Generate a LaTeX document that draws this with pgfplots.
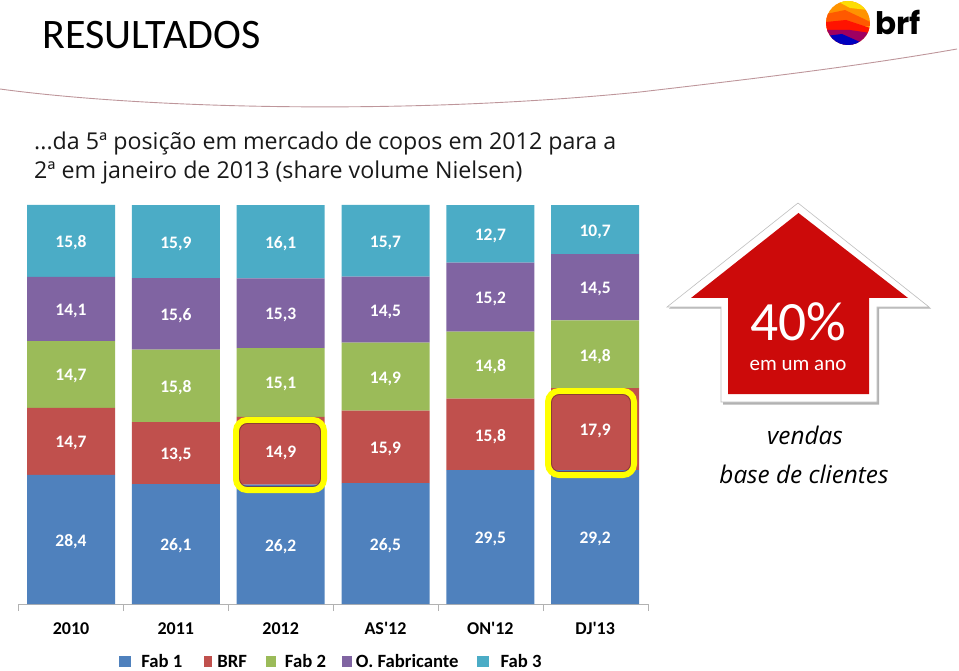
\documentclass[border=0pt]{standalone}
\usepackage{pgfplots}
\pgfplotsset{compat=1.18}
\usepackage{pgfplotstable}
\usepackage{fontspec}
\setmainfont{Carlito}[Ligatures=TeXOff]
\newfontfamily\bodyfont{Open Sans}
\newfontfamily\logofont{Poppins}
\definecolor{cA}{HTML}{4F81BD}
\definecolor{cB}{HTML}{C0504D}
\definecolor{cC}{HTML}{9BBB59}
\definecolor{cD}{HTML}{8064A2}
\definecolor{cE}{HTML}{4BACC6}
\definecolor{arrowred}{HTML}{CC0A0A}
\definecolor{hl}{HTML}{FFFF00}
\pgfplotstableread{
x fabA brf fabB ofab fabC total
0 28.4 14.7 14.7 14.1 15.8 87.7
1 26.1 13.5 15.8 15.6 15.9 86.9
2 26.2 14.9 15.1 15.3 16.1 87.6
3 26.5 15.9 14.9 14.5 15.7 87.5
4 29.5 15.8 14.8 15.2 12.7 88.0
5 29.2 17.9 14.8 14.5 10.7 87.1
}\shares
\pgfplotsset{
  ser/.style={fill=#1, draw=none, bar width=88pt},
  lab/.style={point meta=\thisrow{#1}},
  swatch/.style={legend image code/.code={\fill[##1] (0pt,-5.5pt) rectangle (#1pt,5.5pt);}},
}
\newcommand{\lgd}[3]{\hspace*{#1pt}\raisebox{0pt}[12pt][2pt]{#2}\hspace*{#3pt}\mbox{}}
\begin{document}
\begin{tikzpicture}[x=1pt,y=-1pt]
\path[use as bounding box] (0,0) rectangle (959,671);
% swoosh
\draw[color={rgb,255:red,190;green,150;blue,155},line width=0.9pt] (0,89) .. controls (140,108) and (400,116) .. (640,92) .. controls (760,78) and (860,66) .. (957,49);
% title & text
\node[anchor=base west,font=\fontsize{42}{42}\selectfont,inner sep=0] at (42,49) {RESULTADOS};
\node[anchor=base west,font=\bodyfont\fontsize{23.2}{23.2}\selectfont,inner sep=0,text=black!90] at (34,150) {...da 5ª posição em mercado de copos em 2012 para a};
\node[anchor=base west,font=\bodyfont\fontsize{23.2}{23.2}\selectfont,inner sep=0,text=black!90] at (34,179) {2ª em janeiro de 2013 (share volume Nielsen)};
% logo
\begin{scope}
\clip (848,23) circle (22);
\fill[orange!85!yellow] (826,1) rectangle (870,45);
\fill[yellow!80!orange] (835,0) -- (865,0) -- (868,10) -- (850,8) -- cycle;
\fill[orange!70!red] (826,14) -- (845,10) -- (862,18) -- (870,22) -- (870,26) -- (826,26) -- cycle;
\fill[red!85!orange] (826,22) -- (846,20) -- (870,28) -- (870,34) -- (826,32) -- cycle;
\fill[violet!75!red] (826,30) -- (850,30) -- (870,33) -- (862,46) -- (826,46) -- cycle;
\fill[blue!75!black] (826,36) -- (842,34) -- (860,42) -- (852,46) -- (826,46) -- cycle;
\end{scope}
\node[anchor=base west,font=\logofont\bfseries\fontsize{31}{31}\selectfont,inner sep=0] at (875,35) {brf};
% axis
\begin{axis}[
  at={(18.6pt,-604pt)}, anchor=south west,
  scale only axis, width=629pt, height=399pt,
  xmin=-0.5, xmax=5.5, ymin=0, ymax=100,
  ybar stacked,
  axis y line=none,
  axis x line*=bottom,
  axis line style={draw=black!30,-},
  xtick={0,...,5},
  xticklabels={2010,2011,2012,AS'12,ON'12,DJ'13},
  major tick length=0pt,
  minor xtick={-0.5,0.5,...,5.5},
  minor tick length=7pt,
  tick align=outside,
  minor tick style={draw=black!30},
  xticklabel style={font=\bfseries\fontsize{18}{18}\selectfont,text=black,anchor=base,yshift=-30pt},
  clip=false,
  nodes near coords={\pgfmathprintnumber[fixed,fixed zerofill,precision=1,use comma,assume math mode=true]{\pgfplotspointmeta}},
  every node near coord/.append style={anchor=center,font=\bfseries\fontsize{17.5}{17.5}\selectfont,text=white,yshift=-2pt},
  legend columns=5,
  legend cell align=left,
  legend style={at={(100.5pt,-51pt)},anchor=north west,draw=none,fill=none,inner sep=0pt,
    font=\bfseries\fontsize{18.7}{18.7}\selectfont,
    /tikz/column sep=0pt,
    nodes={inner sep=0pt}},
]
\addplot+[ser=cA,lab=fabA,swatch=12] table[x=x,y expr=\thisrow{fabA}/\thisrow{total}*100] {\shares};
\addlegendentry{\lgd{10}{Fab 1}{22}}
\addplot+[ser=cB,lab=brf,swatch=8] table[x=x,y expr=\thisrow{brf}/\thisrow{total}*100] {\shares};
\addlegendentry{\lgd{5}{BRF}{19}}
\addplot+[ser=cC,lab=fabB,swatch=10] table[x=x,y expr=\thisrow{fabB}/\thisrow{total}*100] {\shares};
\addlegendentry{\lgd{9}{Fab 2}{16}}
\addplot+[ser=cD,lab=ofab,swatch=10] table[x=x,y expr=\thisrow{ofab}/\thisrow{total}*100] {\shares};
\addlegendentry{\lgd{4}{O. Fabricante}{18}}
\addplot+[ser=cE,lab=fabC,swatch=12] table[x=x,y expr=\thisrow{fabC}/\thisrow{total}*100] {\shares};
\addlegendentry{\lgd{12}{Fab 3}{0}}
\end{axis}
% highlights
\draw[hl,line width=6pt,rounded corners=11pt] (236,420) rectangle (324,490);
\draw[hl,line width=6pt,rounded corners=11pt] (548,391) rectangle (634,475);
\draw[black!40!cB,line width=0.8pt,rounded corners=8pt,opacity=.7] (239.5,423.5) rectangle (320.5,486.5);
\draw[black!40!cB,line width=0.8pt,rounded corners=8pt,opacity=.7] (551.5,394.5) rectangle (630.5,471.5);
% arrow
\fill[black!30] (669,308.5) -- (798,204) -- (931,308.5) -- (879,308.5) -- (879,404.5) -- (723,404.5) -- (723,308.5) -- cycle;
\filldraw[fill=white,draw=black!25,line width=0.6pt] (667,307) -- (798,203) -- (929,307) -- (877,307) -- (877,402) -- (721,402) -- (721,307) -- cycle;
\fill[arrowred] (691,298) -- (798.5,213) -- (908,298) -- (869,298) -- (869,394) -- (728,394) -- (728,298) -- cycle;
\node[text=white,font=\fontsize{55.5}{55.5}\selectfont,inner sep=0] at (798,322) {40\%};
\node[text=white,font=\fontsize{21}{21}\selectfont,inner sep=0] at (798,365) {em um ano};
\node[font=\bodyfont\itshape\fontsize{24.3}{24.3}\selectfont,inner sep=0] at (805,435) {vendas};
\node[font=\bodyfont\itshape\fontsize{24.3}{24.3}\selectfont,inner sep=0] at (804,474) {base de clientes};
\end{tikzpicture}
\end{document}
